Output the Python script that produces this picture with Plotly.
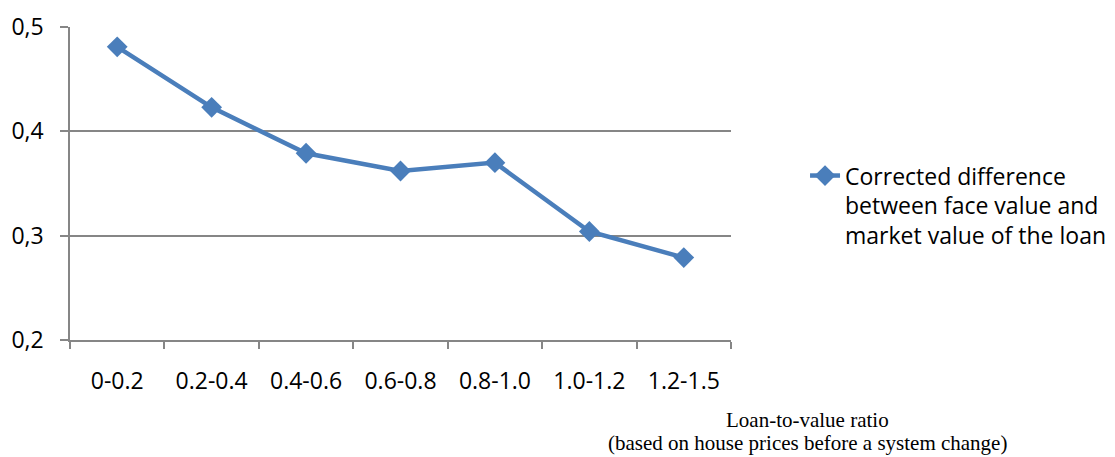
import plotly.graph_objects as go

# Loan-to-value ratio bands and the corrected face/market value difference
categories = ["0-0.2", "0.2-0.4", "0.4-0.6", "0.6-0.8", "0.8-1.0", "1.0-1.2", "1.2-1.5"]
corrected_difference = [0.481, 0.423, 0.379, 0.362, 0.370, 0.304, 0.279]
y_ticks = [0.2, 0.3, 0.4, 0.5]
y_tick_labels = ["0,2", "0,3", "0,4", "0,5"]
series_name = "Corrected difference<br>between face value and<br>market value of the loan"
axis_title_lines = ["Loan-to-value ratio", "(based on house prices before a system change)"]

blue = "#4A7EBB"
grid = "#868686"
sans = "'Open Sans', sans-serif"
serif = "'Liberation Serif', 'Times New Roman', serif"

fig = go.Figure()
fig.add_trace(go.Scatter(
    x=categories,
    y=corrected_difference,
    mode="lines+markers",
    name=series_name,
    line=dict(color=blue, width=4.5),
    marker=dict(symbol="diamond", size=16, color=blue),
))

fig.update_layout(
    width=1115,
    height=457,
    margin=dict(l=70, r=384, t=27, b=117, autoexpand=False),
    paper_bgcolor="white",
    plot_bgcolor="white",
    font=dict(family=sans, size=23, color="black"),
    showlegend=True,
    legend=dict(
        x=1.112, xanchor="left", xref="paper",
        y=0.594, yanchor="top",
        valign="top",
        font=dict(family=sans, size=23, color="black"),
        itemwidth=30,
        tracegroupgap=0,
    ),
    xaxis=dict(
        type="category",
        range=[-0.5, 6.5],
        showgrid=False,
        showline=True,
        linecolor=grid,
        linewidth=1.5,
        ticks="outside",
        tickson="boundaries",
        ticklen=7,
        tickcolor=grid,
        tickwidth=1.5,
        ticklabelstandoff=20,
        tickfont=dict(family=sans, size=23),
        fixedrange=True,
    ),
    yaxis=dict(
        range=[0.2, 0.5],
        tickvals=y_ticks,
        ticktext=y_tick_labels,
        showgrid=True,
        gridcolor=grid,
        gridwidth=1.5,
        showline=True,
        linecolor=grid,
        linewidth=1.5,
        ticks="outside",
        ticklen=8,
        tickcolor=grid,
        tickwidth=1.5,
        zeroline=False,
        ticklabelstandoff=12,
        tickfont=dict(family=sans, size=23),
        fixedrange=True,
    ),
)

# Two-line x-axis caption, set in a serif face to the right of the plot
for line_text, y_pos in zip(axis_title_lines, [-0.254, -0.328]):
    fig.add_annotation(
        text=line_text,
        xref="paper", yref="paper",
        x=1.115, y=y_pos,
        xanchor="center", yanchor="middle",
        showarrow=False,
        align="center",
        font=dict(family=serif, size=21, color="black"),
    )

fig.write_html("out.html")
